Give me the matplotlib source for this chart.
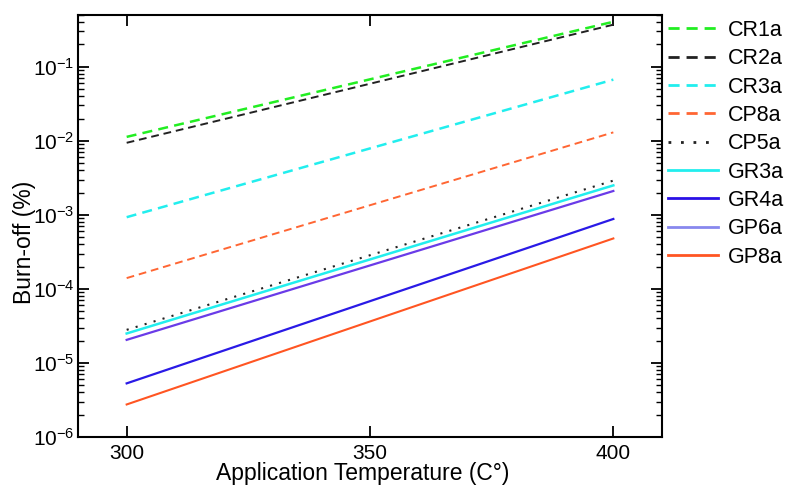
import numpy as np
import matplotlib
matplotlib.use("Agg")
import matplotlib.pyplot as plt
from matplotlib.lines import Line2D
from matplotlib.ticker import LogLocator, FixedLocator

plt.rcParams['font.family'] = ['Liberation Sans', 'DejaVu Sans']
plt.rcParams['mathtext.fontset'] = 'custom'
plt.rcParams['mathtext.rm'] = 'Liberation Sans'
plt.rcParams['mathtext.it'] = 'Liberation Sans'

# Application temperatures (end points of each fitted line)
temperature = [300, 400]

# Burn-off (%) at 300 and 400 C
CR1a = [0.0113, 0.405]
CR2a = [0.0094, 0.37]
CR3a = [0.00093, 0.067]
CP8a = [1.4e-4, 0.013]
CP5a = [2.8e-5, 0.0029]
GR3a = [2.5e-5, 0.0025]
GR4a = [5.3e-6, 8.8e-4]
GP6a = [2.05e-5, 0.0021]
GP8a = [2.75e-6, 4.8e-4]

names = ['CR1a', 'CR2a', 'CR3a', 'CP8a', 'CP5a', 'GR3a', 'GR4a', 'GP6a', 'GP8a']
series = [CR1a, CR2a, CR3a, CP8a, CP5a, GR3a, GR4a, GP6a, GP8a]
colors = ['#22ee22', '#222222', '#22eeee', '#ff6633', '#222222',
          '#22eeee', '#2a1ae6', '#6a3be8', '#ff5522']
legend_colors = ['#22ee22', '#222222', '#22eeee', '#ff6633', '#222222',
                 '#22eeee', '#2a10e6', '#8888ee', '#ff5522']
styles = [(0, (4, 2.5)), (0, (4, 2.5)), (0, (4, 2.5)), (0, (4, 2.5)),
          (0, (1, 3.5)), '-', '-', '-', '-']
widths = [1.8, 1.4, 1.8, 1.4, 1.5, 1.8, 1.6, 1.6, 1.5]

W, H = 785, 488
fig = plt.figure(figsize=(W / 100, H / 100), dpi=100)
ax = fig.add_axes([78 / W, 1 - 437 / H, (662 - 78) / W, (437 - 15) / H])

for name, vals, c, ls, lw in zip(names, series, colors, styles, widths):
    ax.plot(temperature, vals, color=c, linestyle=ls, linewidth=lw, label=name)

ax.set_yscale('log')
ax.set_xlim(290, 410)
ax.set_ylim(1e-6, 0.5)
ax.xaxis.set_major_locator(FixedLocator([300, 350, 400]))
ax.yaxis.set_major_locator(LogLocator(base=10, numticks=10))
ax.yaxis.set_minor_locator(LogLocator(base=10, subs=np.arange(2, 10), numticks=10))

ax.tick_params(axis='both', which='major', direction='in', length=8, width=1.3,
               top=True, right=True, labelsize=15)
ax.tick_params(axis='x', which='major', pad=5)
ax.tick_params(axis='y', which='major', pad=2.5)
ax.tick_params(axis='y', which='minor', direction='in', length=4.5, width=1.0,
               left=True, right=True)
ax.tick_params(axis='x', which='minor', bottom=False, top=False)
for sp in ax.spines.values():
    sp.set_linewidth(1.5)

ax.set_xlabel('Application Temperature (C°)', fontsize=16.5)
ax.set_ylabel('Burn-off (%)', fontsize=16.5)
ax.xaxis.set_label_coords((363 - 78) / 584, -(462 - 437) / 422)
ax.yaxis.set_label_coords((36 - 78) / 584, 1 - (242 - 15) / 422)

handles = [Line2D([], [], color=c, linestyle=ls, linewidth=2.0)
           for c, ls in zip(legend_colors, styles)]
fig.legend(handles, names, loc='upper left',
           bbox_to_anchor=(668 / W, 1 - 20 / H), bbox_transform=fig.transFigure,
           frameon=False, fontsize=15.5, handlelength=2.33, handletextpad=0.47,
           labelspacing=0.34, borderpad=0, borderaxespad=0)

fig.savefig('out.png', dpi=100)
